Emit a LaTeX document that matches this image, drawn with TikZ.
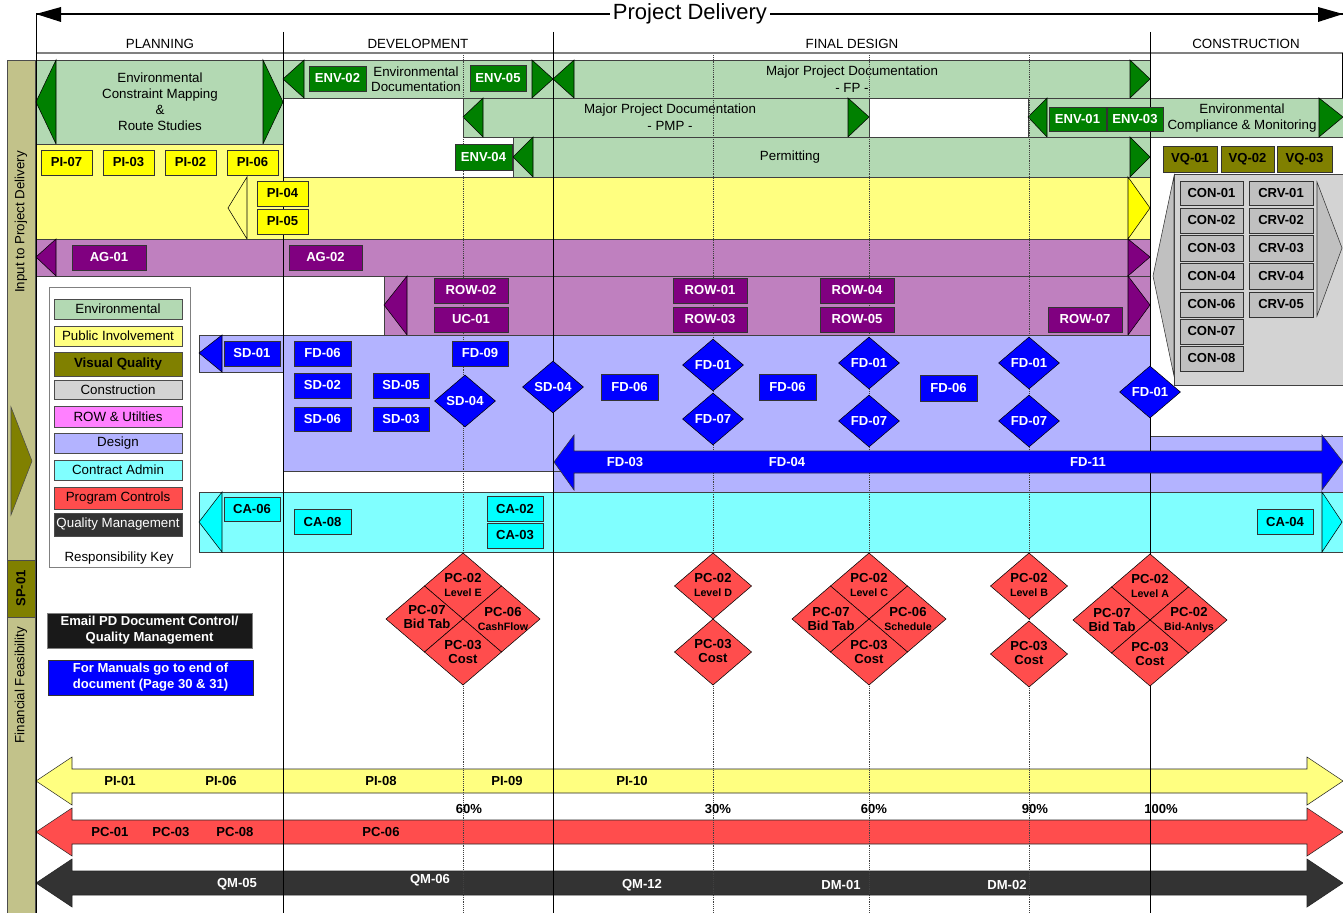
\documentclass[tikz,border=0pt]{standalone}
\usepackage{fontspec}
\setmainfont{Liberation Sans}
\usetikzlibrary{shapes.geometric}

\definecolor{envlt}{RGB}{179,217,179}
\definecolor{envdk}{RGB}{0,128,0}
\definecolor{pilt}{RGB}{255,255,128}
\definecolor{pidk}{RGB}{255,255,0}
\definecolor{aglt}{RGB}{191,128,191}
\definecolor{agdk}{RGB}{128,0,128}
\definecolor{fdlt}{RGB}{179,179,255}
\definecolor{fddk}{RGB}{0,0,255}
\definecolor{calt}{RGB}{128,255,255}
\definecolor{cadk}{RGB}{0,255,255}
\definecolor{conlt}{RGB}{211,211,211}
\definecolor{condk}{RGB}{192,192,192}
\definecolor{rowlt}{RGB}{255,128,255}
\definecolor{pcred}{RGB}{255,77,77}
\definecolor{qmdk}{RGB}{51,51,51}
\definecolor{vqdk}{RGB}{128,128,0}
\definecolor{sidebar}{RGB}{194,194,138}

\newcommand{\pcsmall}{\fontsize{8}{9}\selectfont}

\begin{document}
\begin{tikzpicture}[x=0.75pt, y=-0.75pt, font=\fontsize{10}{12}\selectfont,
    region/.style={draw=black!75},
    tag/.style={draw=black!80, font=\fontsize{9.8}{11}\selectfont\bfseries},
    keybox/.style={draw=black!70},
    fddiam/.style={diamond, draw=black, fill=fddk, text=white, inner sep=0pt,
        minimum width=45.75pt, minimum height=39pt, font=\fontsize{9.8}{11}\selectfont\bfseries},
    pcdia/.style={fill=pcred, draw=black},
    pctext/.style={align=center, inner sep=0pt, font=\fontsize{9.8}{11}\selectfont\bfseries},
    band/.style={draw=black!85},
    bandtext/.style={font=\fontsize{9.8}{11}\selectfont\bfseries}]
    \useasboundingbox (0,0) rectangle (1343,913);

    %Project Delivery arrow
    \draw[line width=0.8pt] (36,14) -- (1343,14);
    \fill (61,7) -- (36,14) -- (61,22) -- cycle;
    \fill (1318,7) -- (1343,14) -- (1318,22) -- cycle;
    \node[fill=white, inner sep=2pt, font=\fontsize{16.5}{18}\selectfont] (pd) at (690,14) {Project Delivery};

    %phases
    \draw[gray, line width=0.8pt] (36,53) -- (1343,53);
    \draw (1342,53) -- (1342,98);
    \node (planning) at (160,44) {PLANNING};
    \node (development) at (418,44) {DEVELOPMENT};
    \node (finaldesign) at (852,44) {FINAL DESIGN};
    \node (construction) at (1246,44) {CONSTRUCTION};

    %side bar
    \filldraw[fill=sidebar, draw=black!70] (7,60) rectangle (35,913);
    \node[rotate=90] (input) at (21,222) {Input to Project Delivery};
    \filldraw[fill=vqdk, draw=black!70] (11,407) -- (32,461) -- (11,515) -- cycle;
    \filldraw[fill=vqdk, draw=black!70] (7,560) rectangle (35,617) node[pos=.5, rotate=90, font=\fontsize{9.8}{11}\selectfont\bfseries] (sp01) {SP-01};
    \node[rotate=90] (finfeas) at (21,685) {Financial Feasibility};

    %Environmental
    \filldraw[region, fill=envlt] (36,60) rectangle (283,144);
    \filldraw[fill=envdk, draw=black] (56,60) -- (36,102) -- (56,144) -- cycle;
    \filldraw[fill=envdk, draw=black] (263,60) -- (283,102) -- (263,144) -- cycle;
    \node[align=center] (ecm) at (160,102) {Environmental\\Constraint Mapping\\\&\\Route Studies};

    \filldraw[region, fill=envlt] (283,60) rectangle (553,98);
    \filldraw[fill=envdk, draw=black] (304,60) -- (283,79) -- (304,98) -- cycle;
    \filldraw[fill=envdk, draw=black] (532,60) -- (553,79) -- (532,98) -- cycle;
    \node[align=center, font=\fontsize{10}{11.5}\selectfont] (envdoc) at (416,79) {Environmental\\Documentation};

    \filldraw[region, fill=envlt] (553,60) rectangle (1150,98);
    \filldraw[fill=envdk, draw=black] (574,60) -- (553,79) -- (574,98) -- cycle;
    \filldraw[fill=envdk, draw=black] (1130,60) -- (1150,79) -- (1130,98) -- cycle;
    \node[align=center, font=\fontsize{10}{12.5}\selectfont] (mpdfp) at (852,79) {Major Project Documentation\\- FP -};

    \filldraw[region, fill=envlt] (463,98) rectangle (869,137);
    \filldraw[fill=envdk, draw=black] (483,98) -- (463,117) -- (483,137) -- cycle;
    \filldraw[fill=envdk, draw=black] (848,98) -- (869,117) -- (848,137) -- cycle;
    \node[align=center, font=\fontsize{10}{12.5}\selectfont] (mpdpmp) at (670,117) {Major Project Documentation\\- PMP -};

    \filldraw[region, fill=envlt] (1028,98) rectangle (1343,137);
    \filldraw[fill=envdk, draw=black] (1047,98) -- (1028,117) -- (1047,137) -- cycle;
    \filldraw[fill=envdk, draw=black] (1319,98) -- (1343,117) -- (1319,137) -- cycle;
    \node[align=center] (ecmon) at (1242,118) {Environmental\\Compliance \& Monitoring};

    \filldraw[region, fill=envlt] (513,137) rectangle (1150,177);
    \filldraw[fill=envdk, draw=black] (533,137) -- (513,157) -- (533,177) -- cycle;
    \filldraw[fill=envdk, draw=black] (1130,137) -- (1150,157) -- (1130,177) -- cycle;
    \node (permitting) at (790,157) {Permitting};

    %Public Involvement
    \filldraw[region, fill=pilt] (228,177) rectangle (1150,239);
    \filldraw[region, fill=pilt] (36,144) rectangle (283,239);
    \filldraw[fill=pilt, draw=black] (247,177) -- (228,208) -- (247,239) -- cycle;
    \filldraw[fill=pidk, draw=black] (1128,177) -- (1150,208) -- (1128,239) -- cycle;

    %Agency and ROW
    \filldraw[region, fill=aglt] (36,239) rectangle (1150,276);
    \filldraw[fill=agdk, draw=black] (56,239) -- (36,257) -- (56,276) -- cycle;
    \filldraw[fill=agdk, draw=black] (1128,239) -- (1150,257) -- (1128,276) -- cycle;
    \filldraw[region, fill=aglt] (384,276) rectangle (1150,335);
    \filldraw[fill=agdk, draw=black] (407,276) -- (384,305) -- (407,335) -- cycle;
    \filldraw[fill=agdk, draw=black] (1128,276) -- (1150,305) -- (1128,335) -- cycle;

    %Construction
    \filldraw[region, fill=conlt] (1174,174) rectangle (1343,385);
    \filldraw[fill=condk, draw=black!80] (1174,176) -- (1153,276) -- (1174,376) -- cycle;
    \filldraw[fill=condk, draw=black!80] (1317,182) -- (1342,248) -- (1317,316) -- cycle;

    %Design
    \filldraw[region, fill=fdlt] (553,436) rectangle (1343,492);
    \filldraw[region, fill=fdlt] (283,335) rectangle (1150,471);
    \filldraw[region, fill=fdlt] (199,335) rectangle (283,372);
    \filldraw[fill=fddk, draw=black] (222,335) -- (199,353) -- (222,372) -- cycle;

    %Contract Admin
    \filldraw[region, fill=calt] (199,492) rectangle (1343,552);
    \filldraw[fill=cadk, draw=black] (222,492) -- (199,522) -- (222,552) -- cycle;
    \filldraw[fill=cadk, draw=black] (1322,492) -- (1342,522) -- (1322,552) -- cycle;

    %bottom bands
    \filldraw[band, fill=pilt] (36,781) -- (72,757) -- (72,769) -- (1307,769) -- (1307,757) -- (1343,781) -- (1307,805) -- (1307,793) -- (72,793) -- (72,805) -- cycle;
    \filldraw[band, fill=pcred] (36,832) -- (72,808) -- (72,820) -- (1307,820) -- (1307,808) -- (1343,832) -- (1307,856) -- (1307,844) -- (72,844) -- (72,856) -- cycle;
    \filldraw[band, fill=qmdk] (36,883) -- (72,859) -- (72,871) -- (1307,871) -- (1307,859) -- (1343,883) -- (1307,907) -- (1307,895) -- (72,895) -- (72,907) -- cycle;

    %phase and milestone lines
    \draw (36,14) -- (36,913);
    \foreach \x in {283,553,1150} \draw (\x,32) -- (\x,913);
    \foreach \x in {463,713,869,1029} \draw[densely dotted, black!75] (\x,55) -- (\x,913);

    %FD arrow
    \filldraw[fill=fddk, draw=black!80] (554,462) -- (574,435) -- (574,451) -- (1322,451) -- (1322,435) -- (1343,462) -- (1322,490) -- (1322,473) -- (574,473) -- (574,490) -- cycle;
    \node[bandtext, text=white] (fd03) at (625,462) {FD-03};
    \node[bandtext, text=white] (fd04) at (787,462) {FD-04};
    \node[bandtext, text=white] (fd11) at (1088,462) {FD-11};

    %ENV tags
    \filldraw[tag, fill=envdk, text=white] (309,66) rectangle (366,91) node[pos=.5] (env02) {ENV-02};
    \filldraw[tag, fill=envdk, text=white] (470,65) rectangle (526,91) node[pos=.5] (env05) {ENV-05};
    \filldraw[tag, fill=envdk, text=white] (455,144) rectangle (512,170) node[pos=.5] (env04) {ENV-04};
    \filldraw[tag, fill=envdk, text=white] (1049,107) rectangle (1106,131) node[pos=.5] (env01) {ENV-01};
    \filldraw[tag, fill=envdk, text=white] (1107,107) rectangle (1163,131) node[pos=.5] (env03) {ENV-03};

    %VQ tags
    \filldraw[tag, fill=vqdk] (1163,146) rectangle (1217,172) node[pos=.5] (vq01) {VQ-01};
    \filldraw[tag, fill=vqdk] (1221,146) rectangle (1274,172) node[pos=.5] (vq02) {VQ-02};
    \filldraw[tag, fill=vqdk] (1277,146) rectangle (1332,172) node[pos=.5] (vq03) {VQ-03};

    %PI tags
    \filldraw[tag, fill=pidk] (41,150) rectangle (92,175) node[pos=.5] (pi07) {PI-07};
    \filldraw[tag, fill=pidk] (103,150) rectangle (154,175) node[pos=.5] (pi03) {PI-03};
    \filldraw[tag, fill=pidk] (165,150) rectangle (216,175) node[pos=.5] (pi02) {PI-02};
    \filldraw[tag, fill=pidk] (227,150) rectangle (278,175) node[pos=.5] (pi06) {PI-06};
    \filldraw[tag, fill=pidk] (257,181) rectangle (308,206) node[pos=.5] (pi04) {PI-04};
    \filldraw[tag, fill=pidk] (257,209) rectangle (308,234) node[pos=.5] (pi05) {PI-05};

    %AG and ROW tags
    \filldraw[tag, fill=agdk, text=white] (72,245) rectangle (146,270) node[pos=.5] (ag01) {AG-01};
    \filldraw[tag, fill=agdk, text=white] (289,245) rectangle (362,270) node[pos=.5] (ag02) {AG-02};
    \filldraw[tag, fill=agdk, text=white] (434,278) rectangle (508,303) node[pos=.5] (row02) {ROW-02};
    \filldraw[tag, fill=agdk, text=white] (434,307) rectangle (508,332) node[pos=.5] (uc01) {UC-01};
    \filldraw[tag, fill=agdk, text=white] (673,278) rectangle (747,303) node[pos=.5] (row01) {ROW-01};
    \filldraw[tag, fill=agdk, text=white] (673,307) rectangle (747,332) node[pos=.5] (row03) {ROW-03};
    \filldraw[tag, fill=agdk, text=white] (820,278) rectangle (894,303) node[pos=.5] (row04) {ROW-04};
    \filldraw[tag, fill=agdk, text=white] (820,307) rectangle (894,332) node[pos=.5] (row05) {ROW-05};
    \filldraw[tag, fill=agdk, text=white] (1048,307) rectangle (1122,332) node[pos=.5] (row07) {ROW-07};

    %CON tags
    \filldraw[tag, fill=condk] (1180,181) rectangle (1243,205) node[pos=.5] (con01) {CON-01};
    \filldraw[tag, fill=condk] (1180,208) rectangle (1243,233) node[pos=.5] (con02) {CON-02};
    \filldraw[tag, fill=condk] (1180,235) rectangle (1243,261) node[pos=.5] (con03) {CON-03};
    \filldraw[tag, fill=condk] (1180,263) rectangle (1243,289) node[pos=.5] (con04) {CON-04};
    \filldraw[tag, fill=condk] (1180,292) rectangle (1243,317) node[pos=.5] (con06) {CON-06};
    \filldraw[tag, fill=condk] (1180,319) rectangle (1243,344) node[pos=.5] (con07) {CON-07};
    \filldraw[tag, fill=condk] (1180,346) rectangle (1243,371) node[pos=.5] (con08) {CON-08};
    \filldraw[tag, fill=condk] (1249,181) rectangle (1313,205) node[pos=.5] (crv01) {CRV-01};
    \filldraw[tag, fill=condk] (1249,208) rectangle (1313,233) node[pos=.5] (crv02) {CRV-02};
    \filldraw[tag, fill=condk] (1249,235) rectangle (1313,261) node[pos=.5] (crv03) {CRV-03};
    \filldraw[tag, fill=condk] (1249,263) rectangle (1313,289) node[pos=.5] (crv04) {CRV-04};
    \filldraw[tag, fill=condk] (1249,292) rectangle (1313,317) node[pos=.5] (crv05) {CRV-05};

    %Design tags
    \filldraw[tag, fill=fddk, text=white] (224,341) rectangle (280,366) node[pos=.5] (sd01) {SD-01};
    \filldraw[tag, fill=fddk, text=white] (294,341) rectangle (351,366) node[pos=.5] (fd06a) {FD-06};
    \filldraw[tag, fill=fddk, text=white] (294,373) rectangle (351,398) node[pos=.5] (sd02) {SD-02};
    \filldraw[tag, fill=fddk, text=white] (294,407) rectangle (351,431) node[pos=.5] (sd06) {SD-06};
    \filldraw[tag, fill=fddk, text=white] (373,373) rectangle (429,398) node[pos=.5] (sd05) {SD-05};
    \filldraw[tag, fill=fddk, text=white] (373,407) rectangle (429,431) node[pos=.5] (sd03) {SD-03};
    \filldraw[tag, fill=fddk, text=white] (452,341) rectangle (508,366) node[pos=.5] (fd09) {FD-09};
    \filldraw[tag, fill=fddk, text=white] (601,374) rectangle (658,400) node[pos=.5] (fd06b) {FD-06};
    \filldraw[tag, fill=fddk, text=white] (759,374) rectangle (816,400) node[pos=.5] (fd06c) {FD-06};
    \filldraw[tag, fill=fddk, text=white] (920,375) rectangle (977,401) node[pos=.5] (fd06d) {FD-06};
    \node[fddiam] (sd04a) at (465,401) {SD-04};
    \node[fddiam] (sd04b) at (553,387) {SD-04};
    \node[fddiam] (fd01a) at (713,365) {FD-01};
    \node[fddiam] (fd07a) at (713,419) {FD-07};
    \node[fddiam] (fd01b) at (869,363) {FD-01};
    \node[fddiam] (fd07b) at (869,421) {FD-07};
    \node[fddiam] (fd01c) at (1029,363) {FD-01};
    \node[fddiam] (fd07c) at (1029,421) {FD-07};
    \node[fddiam] (fd01d) at (1150,392) {FD-01};

    %CA tags
    \filldraw[tag, fill=cadk] (224,497) rectangle (280,521) node[pos=.5] (ca06) {CA-06};
    \filldraw[tag, fill=cadk] (294,509) rectangle (351,534) node[pos=.5] (ca08) {CA-08};
    \filldraw[tag, fill=cadk] (487,496) rectangle (543,521) node[pos=.5] (ca02) {CA-02};
    \filldraw[tag, fill=cadk] (487,523) rectangle (543,548) node[pos=.5] (ca03) {CA-03};
    \filldraw[tag, fill=cadk] (1257,509) rectangle (1313,534) node[pos=.5] (ca04) {CA-04};

    %Responsibility key
    \filldraw[fill=white, draw=gray] (49,287) rectangle (190,567);
    \filldraw[keybox, fill=envlt] (54,299) rectangle (182,319) node[pos=.5] (kenv) {Environmental};
    \filldraw[keybox, fill=pilt] (54,326) rectangle (182,346) node[pos=.5] (kpi) {Public Involvement};
    \filldraw[keybox, fill=vqdk] (54,352) rectangle (182,376) node[pos=.5, font=\fontsize{10}{12}\selectfont\bfseries] (kvq) {Visual Quality};
    \filldraw[keybox, fill=conlt] (54,380) rectangle (182,399) node[pos=.5] (kcon) {Construction};
    \filldraw[keybox, fill=rowlt] (54,406) rectangle (182,427) node[pos=.5] (krow) {ROW \& Utilties};
    \filldraw[keybox, fill=fdlt] (54,433) rectangle (182,453) node[pos=.5] (kfd) {Design};
    \filldraw[keybox, fill=calt] (54,460) rectangle (182,480) node[pos=.5] (kca) {Contract Admin};
    \filldraw[keybox, fill=pcred] (54,487) rectangle (182,509) node[pos=.5] (kpc) {Program Controls};
    \filldraw[keybox, fill=qmdk, text=white] (54,513) rectangle (182,536) node[pos=.5] (kqm) {Quality Management};
    \node (respkey) at (119,558) {Responsibility Key};

    %notes
    \filldraw[fill=black!90, draw=gray, text=white, font=\fontsize{9.8}{12}\selectfont\bfseries] (47,613) rectangle (252,648) node[pos=.5, align=center] (email) {Email PD Document Control/\\Quality Management};
    \filldraw[fill=fddk, draw=black!80, text=white, font=\fontsize{9.8}{12}\selectfont\bfseries] (48,660) rectangle (253,695) node[pos=.5, align=center] (manuals) {For Manuals go to end of\\document (Page 30 \& 31)};

    %PC development 60%
    \begin{scope}[shift={(463,619)}]
        \filldraw[pcdia] (0,-66) -- (38.5,-33) -- (0,0) -- (-38.5,-33) -- cycle;
        \filldraw[pcdia] (-77,0) -- (-38.5,-33) -- (0,0) -- (-38.5,33) -- cycle;
        \filldraw[pcdia] (77,0) -- (38.5,-33) -- (0,0) -- (38.5,33) -- cycle;
        \filldraw[pcdia] (0,66) -- (38.5,33) -- (0,0) -- (-38.5,33) -- cycle;
        \node[pctext] (pc02e) at (0,-34) {PC-02\\{\pcsmall Level E}};
        \node[pctext] (pc07e) at (-36,-2) {PC-07\\Bid Tab};
        \node[pctext] (pc06e) at (40,0) {PC-06\\{\pcsmall CashFlow}};
        \node[pctext] (pc03e) at (0,33) {PC-03\\Cost};
    \end{scope}
    %PC 30%
    \begin{scope}[shift={(713,619)}]
        \filldraw[pcdia] (0,-66) -- (38.5,-33) -- (0,0) -- (-38.5,-33) -- cycle;
        \filldraw[pcdia] (0,0) -- (38.5,33) -- (0,66) -- (-38.5,33) -- cycle;
        \node[pctext] (pc02d) at (0,-34) {PC-02\\{\pcsmall Level D}};
        \node[pctext] (pc03d) at (0,32) {PC-03\\Cost};
    \end{scope}
    %PC 60%
    \begin{scope}[shift={(869,619)}]
        \filldraw[pcdia] (0,-66) -- (38.5,-33) -- (0,0) -- (-38.5,-33) -- cycle;
        \filldraw[pcdia] (-77,0) -- (-38.5,-33) -- (0,0) -- (-38.5,33) -- cycle;
        \filldraw[pcdia] (77,0) -- (38.5,-33) -- (0,0) -- (38.5,33) -- cycle;
        \filldraw[pcdia] (0,66) -- (38.5,33) -- (0,0) -- (-38.5,33) -- cycle;
        \node[pctext] (pc02c) at (0,-34) {PC-02\\{\pcsmall Level C}};
        \node[pctext] (pc07c) at (-38,0) {PC-07\\Bid Tab};
        \node[pctext] (pc06c) at (39,0) {PC-06\\{\pcsmall Schedule}};
        \node[pctext] (pc03c) at (0,33) {PC-03\\Cost};
    \end{scope}
    %PC 90%
    \begin{scope}[shift={(1029,619)}]
        \filldraw[pcdia] (0,-66) -- (38.5,-33) -- (0,0) -- (-38.5,-33) -- cycle;
        \filldraw[pcdia] (0,2) -- (38.5,35) -- (0,68) -- (-38.5,35) -- cycle;
        \node[pctext] (pc02b) at (0,-34) {PC-02\\{\pcsmall Level B}};
        \node[pctext] (pc03b) at (0,34) {PC-03\\Cost};
    \end{scope}
    %PC 100%
    \begin{scope}[shift={(1150,620)}]
        \filldraw[pcdia] (0,-66) -- (38.5,-33) -- (0,0) -- (-38.5,-33) -- cycle;
        \filldraw[pcdia] (-77,0) -- (-38.5,-33) -- (0,0) -- (-38.5,33) -- cycle;
        \filldraw[pcdia] (77,0) -- (38.5,-33) -- (0,0) -- (38.5,33) -- cycle;
        \filldraw[pcdia] (0,66) -- (38.5,33) -- (0,0) -- (-38.5,33) -- cycle;
        \node[pctext] (pc02a) at (0,-34) {PC-02\\{\pcsmall Level A}};
        \node[pctext] (pc07a) at (-38,0) {PC-07\\Bid Tab};
        \node[pctext] (pc02x) at (39,0) {PC-02\\{\pcsmall Bid-Anlys}};
        \node[pctext] (pc03a) at (0,34) {PC-03\\Cost};
    \end{scope}

    %band labels
    \node[bandtext] (pi01) at (120,781) {PI-01};
    \node[bandtext] (pi06b) at (221,781) {PI-06};
    \node[bandtext] (pi08) at (381,781) {PI-08};
    \node[bandtext] (pi09) at (507,781) {PI-09};
    \node[bandtext] (pi10) at (632,781) {PI-10};
    \node[bandtext] (pct60a) at (469,809) {60\%};
    \node[bandtext] (pct30) at (718,809) {30\%};
    \node[bandtext] (pct60b) at (874,809) {60\%};
    \node[bandtext] (pct90) at (1035,809) {90\%};
    \node[bandtext] (pct100) at (1161,809) {100\%};
    \node[bandtext] (pc01) at (110,832) {PC-01};
    \node[bandtext] (pc03) at (171,832) {PC-03};
    \node[bandtext] (pc08) at (235,832) {PC-08};
    \node[bandtext] (pc06) at (381,832) {PC-06};
    \node[bandtext, text=white] (qm05) at (237,884) {QM-05};
    \node[bandtext, text=white] (qm06) at (430,880) {QM-06};
    \node[bandtext, text=white] (qm12) at (642,885) {QM-12};
    \node[bandtext, text=white] (dm01) at (841,885) {DM-01};
    \node[bandtext, text=white] (dm02) at (1007,885) {DM-02};
\end{tikzpicture}
\end{document}
